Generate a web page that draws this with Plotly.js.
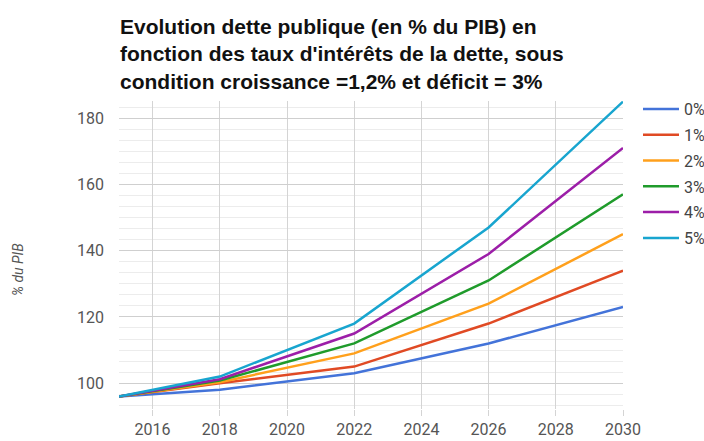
<!DOCTYPE html>
<html>
<head>
<meta charset="utf-8">
<script src="https://cdn.plot.ly/plotly-3.0.1.min.js"></script>
<style>
html,body{margin:0;padding:0;background:#fff;}
#chart{width:704px;height:441px;}
</style>
</head>
<body>
<div id="chart"></div>
<script>
const years = [2015, 2018, 2022, 2026, 2030];
const seriesNames = ["0%", "1%", "2%", "3%", "4%", "5%"];
const rate0 = [96, 98, 103, 112, 123];
const rate1 = [96, 100, 105, 118, 134];
const rate2 = [96, 100.3, 109, 124, 145];
const rate3 = [96, 100.8, 112, 131, 157];
const rate4 = [96, 101.2, 115, 139, 171];
const rate5 = [96, 102, 118, 147, 185];
const allSeries = [rate0, rate1, rate2, rate3, rate4, rate5];
const colors = ["#4373d9", "#e04a24", "#ffa01c", "#1f9b2b", "#9c1ea8", "#18a5cf"];
const xTicks = [2016, 2018, 2020, 2022, 2024, 2026, 2028, 2030];
const yTicks = [100, 120, 140, 160, 180];
const yAxisTitle = "% du PIB";

const traces = allSeries.map((vals, i) => ({
  x: years,
  y: vals,
  name: seriesNames[i],
  type: "scatter",
  mode: "lines",
  legendgroup: "g" + i,
  line: {color: colors[i], width: 2.5},
  hoverinfo: "none"
}));

const layout = {
  width: 704,
  height: 441,
  paper_bgcolor: "#fff",
  plot_bgcolor: "#fff",
  margin: {l: 119, r: 81, t: 101, b: 32},
  title: {
    text: "Evolution dette publique (en % du PIB) en<br>fonction des taux d'intérêts de la dette, sous<br>condition croissance =1,2% et déficit = 3%",
    font: {family: "Liberation Sans, Arial, sans-serif", size: 21, color: "#111", weight: "bold"},
    x: 120/704, xanchor: "left", xref: "container",
    y: 1 - 34/441, yanchor: "top", yref: "container"
  },
  showlegend: true,
  legend: {
    xref: "container", yref: "container",
    x: 638/704, xanchor: "left",
    y: 1 - 92/441, yanchor: "top",
    font: {family: "Roboto, Arial, sans-serif", size: 16, color: "#444"},
    tracegroupgap: 2,
    itemwidth: 36,
    bgcolor: "rgba(0,0,0,0)"
  },
  annotations: [{
    text: "<i>" + yAxisTitle + "</i>",
    xref: "paper", yref: "paper",
    x: -101/504, y: (409 - 270)/308,
    xanchor: "center", yanchor: "middle",
    textangle: -90, showarrow: false,
    font: {family: "Roboto, Arial, sans-serif", size: 14, color: "#555"}
  }],
  xaxis: {
    range: [2015, 2030],
    tickvals: xTicks,
    ticktext: xTicks.map(String),
    showgrid: true,
    gridcolor: "#d4d4d4",
    gridwidth: 1,
    zeroline: false,
    showline: false,
    ticks: "outside",
    ticklen: 6,
    tickcolor: "#d4d4d4",
    ticklabelstandoff: 0,
    tickfont: {family: "Roboto, Arial, sans-serif", size: 16, color: "#555"},
    fixedrange: true
  },
  yaxis: {
    range: [92.2, 185.2],
    tickvals: yTicks,
    ticktext: yTicks.map(String),
    showgrid: true,
    gridcolor: "#cfcfcf",
    gridwidth: 1,
    zeroline: false,
    showline: false,
    ticks: "",
    ticklabelstandoff: 14,
    tickfont: {family: "Roboto, Arial, sans-serif", size: 16, color: "#555"},
    minor: {dtick: 20/6, tick0: 0, showgrid: true, gridcolor: "#ececec", gridwidth: 1, ticks: ""},
    fixedrange: true
  }
};

Plotly.newPlot("chart", traces, layout, {staticPlot: true, displayModeBar: false});
</script>
</body>
</html>
